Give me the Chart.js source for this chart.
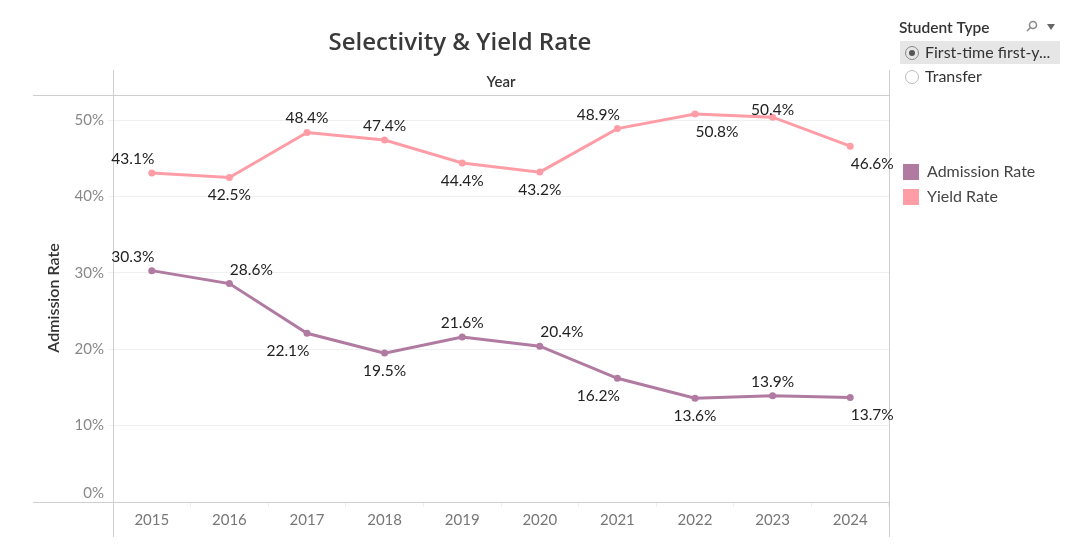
<!DOCTYPE html>
<html>
<head>
<meta charset="utf-8">
<script src="https://cdn.jsdelivr.net/npm/chart.js@4/dist/chart.umd.min.js"></script>
<style>
  html,body{margin:0;padding:0;background:#fff;}
  #wrap{position:relative;width:1080px;height:547px;}
  canvas{position:absolute;left:0;top:0;}
</style>
</head>
<body>
<div id="wrap"><canvas id="c" width="1080" height="547"></canvas></div>
<script>
const years = ['2015','2016','2017','2018','2019','2020','2021','2022','2023','2024'];
const admissionRate = [30.3, 28.6, 22.1, 19.5, 21.6, 20.4, 16.2, 13.6, 13.9, 13.7];
const yieldRate = [43.1, 42.5, 48.4, 47.4, 44.4, 43.2, 48.9, 50.8, 50.4, 46.6];
const yTickValues = [0, 10, 20, 30, 40, 50];

const FONT = 'Lato, "Open Sans", sans-serif';
const C_ADM = '#b07aa1';
const C_YLD = '#ff9da7';

// label placement codes: a=above, b=below, l/r = shifted left/right
const admPlace = ['al','ar','bl','b','a','ar','bl','b','a','br'];
const yldPlace = ['al','b','a','a','b','b','al','br','a','br'];

const decorPlugin = {
  id: 'decor',
  beforeDraw(chart) {
    const ctx = chart.ctx;
    ctx.save();
    ctx.fillStyle = '#fff';
    ctx.fillRect(0, 0, chart.width, chart.height);
    ctx.restore();
  },
  afterDraw(chart) {
    const ctx = chart.ctx, a = chart.chartArea;
    ctx.save();
    ctx.strokeStyle = '#cfcfcf';
    ctx.lineWidth = 1;
    ctx.beginPath();
    ctx.moveTo(33, a.top + 0.5); ctx.lineTo(a.right, a.top + 0.5);
    ctx.moveTo(33, a.bottom + 0.5); ctx.lineTo(a.right, a.bottom + 0.5);
    ctx.moveTo(a.left + 0.5, 70); ctx.lineTo(a.left + 0.5, 537);
    ctx.moveTo(a.right + 0.5, 70); ctx.lineTo(a.right + 0.5, 537);
    ctx.stroke();

    // title
    ctx.fillStyle = '#3a3a3a';
    ctx.textAlign = 'center';
    ctx.textBaseline = 'middle';
    ctx.font = '600 24px "Open Sans", sans-serif';
    ctx.fillText('Selectivity & Yield Rate', 460, 43);

    // header
    ctx.font = '600 15px ' + FONT;
    ctx.fillStyle = '#333';
    ctx.fillText('Year', 501, 82);

    // y axis title
    ctx.save();
    ctx.translate(54, 298);
    ctx.rotate(-Math.PI / 2);
    ctx.font = '600 16px ' + FONT;
    ctx.fillText('Admission Rate', 0, 0);
    ctx.restore();

    // data labels
    ctx.font = '15.5px ' + FONT;
    ctx.fillStyle = '#222';
    const places = [admPlace, yldPlace];
    chart.data.datasets.forEach((ds, di) => {
      const meta = chart.getDatasetMeta(di);
      meta.data.forEach((pt, i) => {
        const code = places[di][i];
        let dx = 0, dy = code[0] === 'a' ? -14 : 18;
        if (code.indexOf('l') > 0) dx = -19;
        if (code.indexOf('r') > 0) dx = 22;
        let y = pt.y + dy;
        if (y < a.top + 15) y = a.top + 15;
        ctx.fillText(ds.data[i].toFixed(1) + '%', pt.x + dx, y);
      });
    });

    // right panel: filter
    ctx.textAlign = 'left';
    ctx.font = '600 15.5px ' + FONT;
    ctx.fillStyle = '#333';
    ctx.fillText('Student Type', 899, 28);
    // search icon
    ctx.strokeStyle = '#888';
    ctx.lineWidth = 1.5;
    ctx.beginPath();
    ctx.arc(1033, 25, 3.5, 0, Math.PI * 2);
    ctx.moveTo(1030.5, 27.5); ctx.lineTo(1027, 31);
    ctx.stroke();
    // dropdown arrow
    ctx.fillStyle = '#666';
    ctx.beginPath();
    ctx.moveTo(1047, 24); ctx.lineTo(1055, 24); ctx.lineTo(1051, 30);
    ctx.closePath(); ctx.fill();

    ctx.fillStyle = '#e6e6e6';
    ctx.fillRect(900, 41, 160, 23);
    // radios
    ctx.strokeStyle = '#888'; ctx.lineWidth = 1;
    ctx.beginPath(); ctx.arc(912, 53, 6.5, 0, Math.PI * 2); ctx.stroke();
    ctx.fillStyle = '#555';
    ctx.beginPath(); ctx.arc(912, 53, 3, 0, Math.PI * 2); ctx.fill();
    ctx.strokeStyle = '#bbb';
    ctx.beginPath(); ctx.arc(912, 77, 6.5, 0, Math.PI * 2); ctx.stroke();
    ctx.fillStyle = '#333';
    ctx.font = '16px ' + FONT;
    ctx.fillText('First-time first-y...', 925, 53);
    ctx.fillText('Transfer', 925, 77);

    // legend
    ctx.fillStyle = C_ADM; ctx.fillRect(903, 164, 16, 16);
    ctx.fillStyle = C_YLD; ctx.fillRect(903, 189, 16, 16);
    ctx.fillStyle = '#444';
    ctx.fillText('Admission Rate', 927, 172);
    ctx.fillText('Yield Rate', 927, 197);
    ctx.restore();
  }
};

new Chart(document.getElementById('c'), {
  type: 'line',
  data: {
    labels: years,
    datasets: [
      { label: 'Admission Rate', data: admissionRate, borderColor: C_ADM, backgroundColor: C_ADM,
        borderWidth: 3, pointRadius: 3.5, pointBorderWidth: 0, tension: 0 },
      { label: 'Yield Rate', data: yieldRate, borderColor: C_YLD, backgroundColor: C_YLD,
        borderWidth: 3, pointRadius: 3.5, pointBorderWidth: 0, tension: 0 }
    ]
  },
  options: {
    responsive: false,
    animation: false,
    devicePixelRatio: 1,
    layout: { padding: { top: 95, right: 191, bottom: 0, left: 0 } },
    plugins: { legend: { display: false }, tooltip: { enabled: false } },
    scales: {
      x: {
        offset: true,
        grid: { offset: true, drawOnChartArea: false, drawTicks: true, tickLength: 5, color: '#eeeeee' },
        border: { display: false },
        ticks: { color: '#777', font: { family: FONT, size: 15 }, padding: 4, maxRotation: 0 },
        afterFit(s) { s.height = 45; }
      },
      y: {
        min: 0, max: 53.3,
        afterBuildTicks(s) { s.ticks = yTickValues.map(v => ({ value: v })); },
        grid: { color: '#f0f0f0', tickLength: 5, drawTicks: true },
        border: { display: false },
        ticks: {
          color: '#888', font: { family: FONT, size: 15 }, padding: 4,
          callback(v) { return v === 0 ? ['0%', ''] : v + '%'; }
        },
        afterFit(s) { s.width = 113; }
      }
    }
  },
  plugins: [decorPlugin]
});
</script>
</body>
</html>
